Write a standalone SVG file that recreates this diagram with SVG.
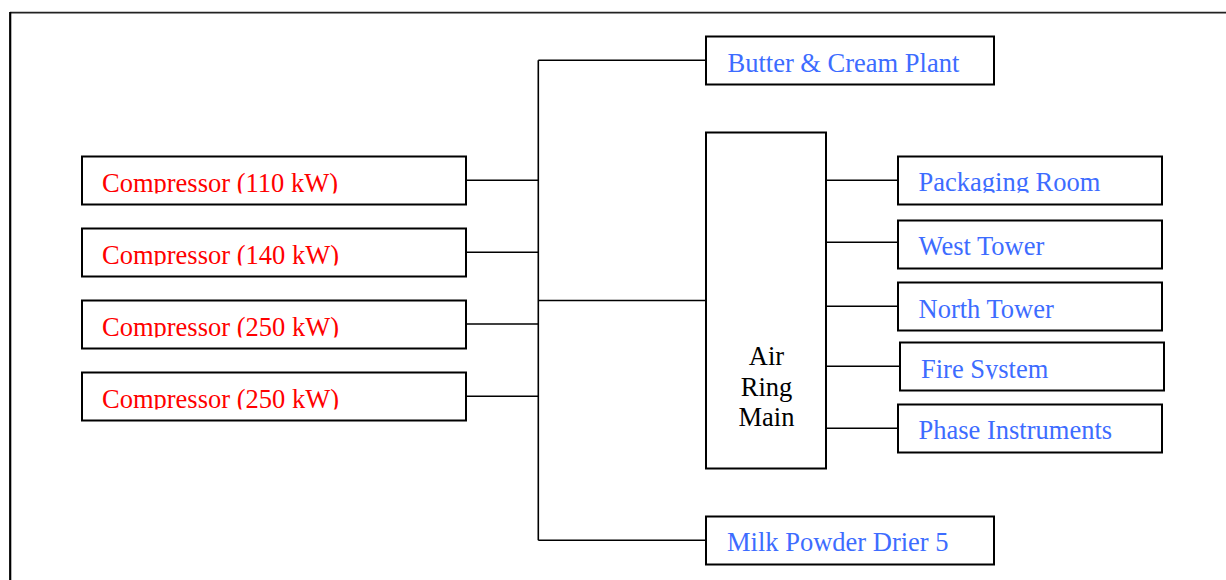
<svg xmlns="http://www.w3.org/2000/svg" width="1226" height="580" viewBox="0 0 1226 580">
<style>
.box{fill:#fff;stroke:#000;stroke-width:2}
.ln{stroke:#000;stroke-width:1.6;fill:none}
.t{font-family:"Liberation Serif","Times New Roman",serif;font-size:26.5px}
.red{fill:#ff0000}
.blue{fill:#3d6cff}
.blk{fill:#000}
</style>
<defs>
<clipPath id="c1"><rect x="90" y="160" width="370" height="33.5"/></clipPath>
<clipPath id="c2"><rect x="90" y="232" width="370" height="33.5"/></clipPath>
<clipPath id="c3"><rect x="90" y="304" width="370" height="33.5"/></clipPath>
<clipPath id="c4"><rect x="90" y="376" width="370" height="33.5"/></clipPath>
<clipPath id="cp"><rect x="905" y="160" width="250" height="32.8"/></clipPath>
<clipPath id="cf"><rect x="905" y="346" width="250" height="33.3"/></clipPath>
</defs>
<g id="frame">
<line x1="10" y1="12.6" x2="1226" y2="12.6" stroke="#222" stroke-width="1.6"/>
<line x1="10.2" y1="12" x2="10.2" y2="580" stroke="#000" stroke-width="2.2"/>
</g>
<g id="connectors" class="ln">
<line x1="538.3" y1="60.3" x2="538.3" y2="540.3"/>
<line x1="538.3" y1="60.3" x2="706" y2="60.3"/>
<line x1="538.3" y1="540.3" x2="706" y2="540.3"/>
<line x1="466" y1="180.3" x2="538.3" y2="180.3"/>
<line x1="466" y1="252.3" x2="538.3" y2="252.3"/>
<line x1="466" y1="324" x2="538.3" y2="324"/>
<line x1="466" y1="396.3" x2="538.3" y2="396.3"/>
<line x1="538.3" y1="300.5" x2="706" y2="300.5"/>
<line x1="826" y1="180.3" x2="898" y2="180.3"/>
<line x1="826" y1="242.3" x2="898" y2="242.3"/>
<line x1="826" y1="306.3" x2="898" y2="306.3"/>
<line x1="826" y1="366.3" x2="900" y2="366.3"/>
<line x1="823.5" y1="428.3" x2="898" y2="428.3"/>
</g>
<g id="comp1"><rect class="box" x="82" y="156.5" width="384" height="48"/><text class="t red" x="102" y="191.7" clip-path="url(#c1)">Compressor (110 kW)</text></g>
<g id="comp2"><rect class="box" x="82" y="228.5" width="384" height="48"/><text class="t red" x="102" y="263.7" clip-path="url(#c2)">Compressor (140 kW)</text></g>
<g id="comp3"><rect class="box" x="82" y="300.5" width="384" height="48"/><text class="t red" x="102" y="335.7" clip-path="url(#c3)">Compressor (250 kW)</text></g>
<g id="comp4"><rect class="box" x="82" y="372.5" width="384" height="48"/><text class="t red" x="102" y="407.7" clip-path="url(#c4)">Compressor (250 kW)</text></g>
<g id="butter"><rect class="box" x="706" y="36.5" width="288" height="48"/><text class="t blue" x="727.5" y="72.3">Butter &amp; Cream Plant</text></g>
<g id="airring"><rect class="box" x="706" y="132.5" width="120" height="336"/>
<text class="t blk" text-anchor="middle" x="766.5" y="365">Air</text>
<text class="t blk" text-anchor="middle" x="766.5" y="395.7">Ring</text>
<text class="t blk" text-anchor="middle" x="766.5" y="426">Main</text></g>
<g id="packaging"><rect class="box" x="898" y="156.5" width="264" height="48"/><text class="t blue" x="918.5" y="191.3" clip-path="url(#cp)">Packaging Room</text></g>
<g id="west"><rect class="box" x="898" y="220.5" width="264" height="48"/><text class="t blue" x="918.5" y="255.3">West Tower</text></g>
<g id="north"><rect class="box" x="898" y="282.5" width="264" height="48"/><text class="t blue" x="918.5" y="317.5">North Tower</text></g>
<g id="fire"><rect class="box" x="900" y="342.5" width="264" height="48"/><text class="t blue" x="921" y="377.7" clip-path="url(#cf)">Fire System</text></g>
<g id="phase"><rect class="box" x="898" y="404.5" width="264" height="48"/><text class="t blue" x="918.5" y="439.3">Phase Instruments</text></g>
<g id="milk"><rect class="box" x="706" y="516.5" width="288" height="48"/><text class="t blue" x="727" y="551.3">Milk Powder Drier 5</text></g>
</svg>
